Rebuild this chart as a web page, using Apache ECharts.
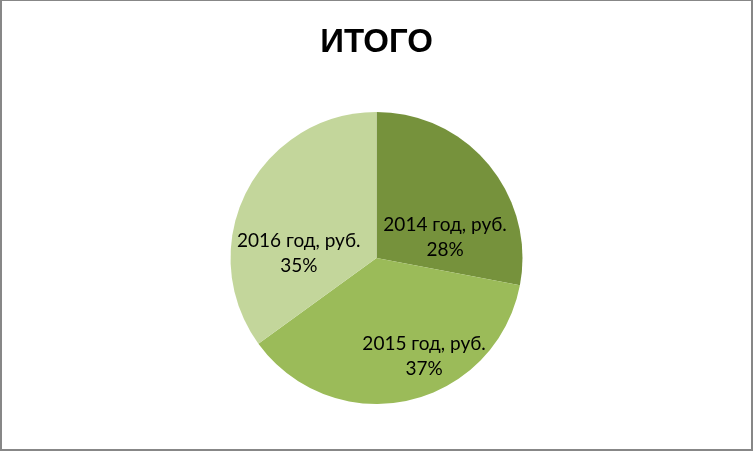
<!DOCTYPE html>
<html><head><meta charset="utf-8">
<script src="https://cdn.jsdelivr.net/npm/echarts@6/dist/echarts.min.js"></script>
<style>
html,body{margin:0;padding:0;background:#fff;}
#frame{position:absolute;left:0;top:0;width:753px;height:451px;box-sizing:border-box;border:2px solid #878787;border-top-width:1px;border-left-width:2px;}
#c{position:absolute;left:0;top:0;width:753px;height:451px;}
</style></head>
<body>
<div id="c"></div>
<div id="frame"></div>
<script>
var titleText = 'ИТОГО';
var categories = ['2014 год, руб.', '2015 год, руб.', '2016 год, руб.'];
var values = [28, 37, 35];
var colors = ['#76923C', '#9BBB59', '#C3D69B'];

var labelOffsets = [[10, 28], [31, 24], [-10, 30]];

var chart = echarts.init(document.getElementById('c'), null, {renderer: 'canvas'});
chart.setOption({
  animation: false,
  title: {
    text: titleText, left: 'center', top: 21,
    textStyle: {fontFamily: 'Liberation Sans', fontWeight: 'bold', fontSize: 33, color: '#000'}
  },
  series: [{
    type: 'pie',
    center: [376.5, 258],
    radius: 146,
    startAngle: 90,
    clockwise: true,
    data: categories.map(function (c, i) {
      return {name: c, value: values[i], itemStyle: {color: colors[i]}};
    }),
    itemStyle: {borderWidth: 0},
    label: {
      position: 'inside',
      formatter: function (p) { return p.name + '\n' + Math.round(p.percent) + '%'; },
      fontFamily: 'Lato', fontSize: 19, lineHeight: 25, color: '#000', align: 'center'
    },
    labelLayout: function (p) {
      var o = labelOffsets[p.dataIndex];
      return {dx: o[0], dy: o[1]};
    },
    emphasis: {disabled: true}
  }]
});
</script>
</body></html>
